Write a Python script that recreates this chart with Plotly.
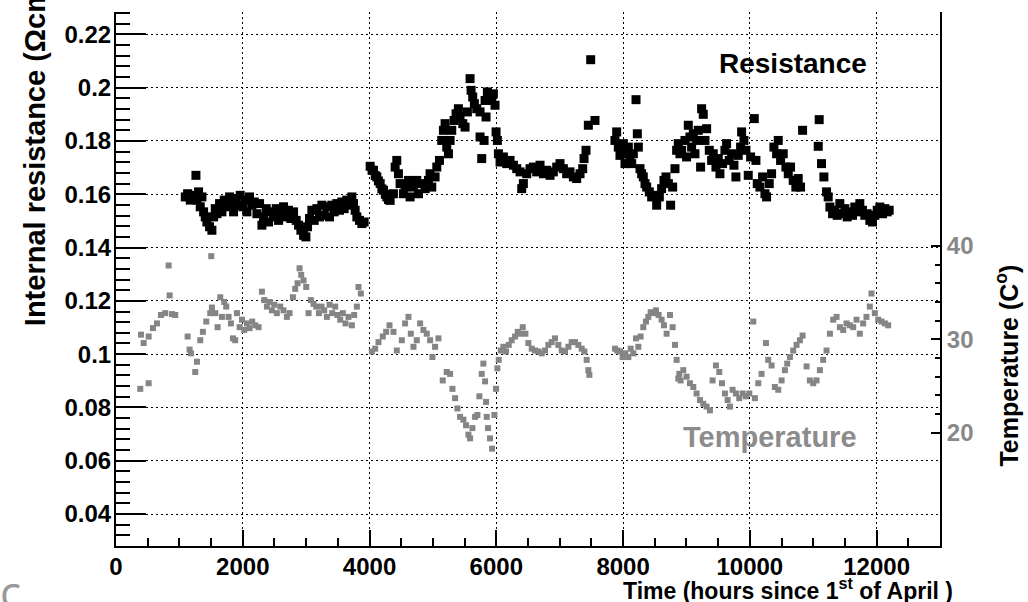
import plotly.graph_objects as go

# ---------------- data ----------------
res_time = [
    1093, 1130, 1172, 1214, 1261, 1277, 1303, 1329, 1356, 1382, 1408, 1434, 1476, 1513, 1540,
    1566, 1592, 1634, 1671, 1708, 1750, 1792, 1829, 1855, 1897, 1934, 1960, 2002, 2039, 2065,
    2107, 2144, 2181, 2223, 2265, 2302, 2328, 2370, 2407, 2444, 2486, 2528, 2565, 2601, 2643,
    2685, 2722, 2759, 2801, 2843, 2880, 2917, 2959, 2996, 3022, 3053, 3090, 3127, 3169, 3211,
    3248, 3284, 3327, 3369, 3406, 3442, 3484, 3526, 3563, 3600, 3642, 3684, 3721, 3747, 3773,
    3800, 3842, 3879, 3915,
    4010, 4040, 4062, 4090, 4115, 4140, 4168, 4195, 4220, 4250, 4273, 4300, 4325, 4377, 4404,
    4430, 4456, 4482, 4535, 4561, 4614, 4640, 4693, 4745, 4772, 4824, 4877, 4929, 4955, 4982,
    5034, 5061, 5103, 5139, 5166, 5192, 5218, 5245, 5271, 5297, 5334, 5365, 5402, 5428, 5471,
    5507, 5544, 5586, 5602, 5628, 5654, 5691, 5744, 5744, 5770, 5807, 5823, 5838, 5859, 5891,
    5928, 5954, 5980, 5996, 6017, 6033, 6059, 6112, 6164, 6217, 6270, 6322, 6375, 6401, 6427,
    6480, 6532, 6585, 6637, 6690, 6743, 6795, 6848, 6900, 6953, 7005, 7058, 7110, 7163, 7216,
    7268, 7321, 7363, 7384, 7415, 7452, 7489, 7557,
    7872, 7899, 7925, 7951, 7978, 8004, 8030, 8057, 8083, 8109, 8136, 8162, 8204, 8225, 8241,
    8267, 8293, 8319, 8346, 8372, 8414, 8451, 8488, 8530, 8572, 8608, 8645, 8677, 8714, 8750,
    8782, 8819, 8845, 8871, 8897, 8924, 8976, 9002, 9029, 9055, 9081, 9108, 9134, 9160, 9186,
    9223, 9239, 9265, 9292, 9318, 9360, 9397, 9423, 9465, 9502, 9528, 9570, 9607, 9633, 9675,
    9712, 9749, 9780, 9817, 9854, 9870, 9907, 9938, 9975, 10012, 10070, 10096, 10117, 10159, 10201,
    10238, 10264, 10306, 10343, 10380, 10422, 10448, 10485, 10527, 10569, 10606, 10642, 10684, 10726, 10763,
    10800, 10832, 11079, 11094, 11131, 11168, 11210, 11236, 11263, 11305, 11341, 11378, 11420, 11462, 11499,
    11536, 11578, 11620, 11656, 11693, 11735, 11777, 11814, 11851, 11893, 11935, 11972, 12009, 12051, 12093,
    12130, 12167, 12198,
]
res_value = [
    0.1590, 0.1602, 0.1578, 0.1596, 0.1671, 0.1578, 0.1609, 0.1553, 0.1590, 0.1534, 0.1515, 0.1496, 0.1478, 0.1465, 0.1515,
    0.1546, 0.1527, 0.1565, 0.1534, 0.1578, 0.1553, 0.1590, 0.1565, 0.1534, 0.1584, 0.1559, 0.1596, 0.1553, 0.1578, 0.1534,
    0.1590, 0.1559, 0.1571, 0.1527, 0.1565, 0.1484, 0.1515, 0.1546, 0.1496, 0.1534, 0.1515, 0.1546, 0.1502, 0.1527, 0.1553,
    0.1515, 0.1540, 0.1509, 0.1534, 0.1502, 0.1484, 0.1465, 0.1446, 0.1440, 0.1478, 0.1509, 0.1540, 0.1502, 0.1546, 0.1515,
    0.1559, 0.1521, 0.1553, 0.1515, 0.1559, 0.1534, 0.1565, 0.1540, 0.1571, 0.1546, 0.1578, 0.1559, 0.1590, 0.1565, 0.1540,
    0.1515, 0.1502, 0.1490, 0.1496,
    0.1705, 0.1690, 0.1690, 0.1670, 0.1665, 0.1650, 0.1640, 0.1620, 0.1615, 0.1600, 0.1590, 0.1580, 0.1577, 0.1602, 0.1702,
    0.1727, 0.1677, 0.1640, 0.1602, 0.1627, 0.1652, 0.1590, 0.1627, 0.1652, 0.1602, 0.1640, 0.1621, 0.1652, 0.1677, 0.1627,
    0.1665, 0.1702, 0.1727, 0.1802, 0.1840, 0.1865, 0.1777, 0.1752, 0.1802, 0.1840, 0.1877, 0.1902, 0.1921, 0.1890, 0.1865,
    0.1852, 0.1909, 0.2034, 0.1990, 0.1965, 0.1940, 0.1921, 0.1909, 0.1815, 0.1734, 0.1802, 0.1952, 0.1890, 0.1984, 0.1971,
    0.1952, 0.1977, 0.1934, 0.1834, 0.1802, 0.1752, 0.1721, 0.1740, 0.1715, 0.1727, 0.1709, 0.1696, 0.1684, 0.1621, 0.1640,
    0.1677, 0.1696, 0.1702, 0.1684, 0.1709, 0.1677, 0.1690, 0.1671, 0.1684, 0.1702, 0.1715, 0.1696, 0.1677, 0.1684, 0.1665,
    0.1659, 0.1677, 0.1696, 0.1734, 0.1765, 0.1859, 0.2105, 0.1877,
    0.1802, 0.1834, 0.1777, 0.1746, 0.1765, 0.1790, 0.1715, 0.1752, 0.1777, 0.1734, 0.1715, 0.1752, 0.1955, 0.1827, 0.1777,
    0.1696, 0.1677, 0.1665, 0.1640, 0.1627, 0.1609, 0.1590, 0.1596, 0.1559, 0.1590, 0.1621, 0.1652, 0.1665, 0.1640, 0.1559,
    0.1627, 0.1696, 0.1765, 0.1790, 0.1752, 0.1765, 0.1802, 0.1740, 0.1859, 0.1815, 0.1777, 0.1827, 0.1752, 0.1802, 0.1840,
    0.1702, 0.1921, 0.1900, 0.1802, 0.1846, 0.1765, 0.1727, 0.1752, 0.1702, 0.1734, 0.1677, 0.1715, 0.1765, 0.1790, 0.1727,
    0.1752, 0.1709, 0.1665, 0.1746, 0.1777, 0.1834, 0.1802, 0.1765, 0.1671, 0.1740, 0.1884, 0.1727, 0.1640, 0.1627, 0.1665,
    0.1602, 0.1590, 0.1640, 0.1677, 0.1777, 0.1752, 0.1802, 0.1727, 0.1752, 0.1702, 0.1677, 0.1702, 0.1652, 0.1627, 0.1659,
    0.1627, 0.1840, 0.1780, 0.1880, 0.1715, 0.1665, 0.1609, 0.1590, 0.1552, 0.1527, 0.1540, 0.1521, 0.1565, 0.1527, 0.1546,
    0.1515, 0.1534, 0.1521, 0.1552, 0.1534, 0.1565, 0.1540, 0.1521, 0.1527, 0.1502, 0.1496, 0.1521, 0.1540, 0.1552, 0.1527,
    0.1546, 0.1534, 0.1540,
]

temp_time = [
    383, 394, 436, 515, 515, 583, 646, 709, 777, 830, 846, 883, 935,
    1130, 1161, 1182, 1250, 1277, 1329, 1371, 1424, 1487, 1513, 1503, 1566, 1603, 1645, 1671, 1708,
    1739, 1776, 1813, 1845, 1881, 1908, 1950, 1987, 2023, 2065, 2107, 2149, 2197, 2249, 2302,
    2339, 2381, 2423, 2460, 2496, 2538, 2591, 2643, 2696, 2738, 2791, 2827, 2864, 2896, 2922,
    2959, 3001, 3038, 3074, 3116, 3159, 3201, 3243, 3285, 3327, 3369, 3411, 3458, 3495, 3537,
    3579, 3621, 3668, 3721, 3758, 3800, 3826, 3863,
    4036, 4089, 4141, 4209, 4262, 4315, 4378, 4430, 4509, 4561, 4614, 4651, 4693, 4745, 4798,
    4850, 4903, 4955, 4992, 5034, 5087, 5155, 5218, 5271, 5308, 5350, 5386, 5428, 5481, 5523,
    5560, 5586, 5623, 5665, 5702, 5733, 5770, 5796, 5823, 5838, 5849, 5870, 5901, 5933, 5970,
    5996, 6017, 6038, 6070, 6112, 6154, 6196, 6243, 6296, 6338, 6375, 6417, 6459, 6506, 6559,
    6611, 6664, 6716, 6769, 6821, 6874, 6926, 6979, 7032, 7084, 7137, 7189, 7242, 7294, 7347,
    7389, 7426, 7452, 7468,
    7872, 7909, 7951, 7993, 8035, 8083, 8120, 8162, 8204, 8241, 8277, 8319, 8361, 8398, 8435,
    8477, 8519, 8561, 8608, 8645, 8687, 8740, 8782, 8819, 8845, 8871, 8887, 8908, 8950, 9002,
    9055, 9108, 9160, 9213, 9265, 9318, 9370, 9412, 9465, 9518, 9560, 9607, 9649, 9686, 9728,
    9780, 9833, 9886, 9938, 9991, 10054, 10080, 10133, 10185, 10254, 10290, 10343, 10395, 10448, 10501,
    10553, 10590, 10632, 10684, 10737, 10790, 10832, 10895, 10947, 11000, 11052, 11105, 11157, 11210, 11263,
    11315, 11368, 11420, 11473, 11525, 11578, 11630, 11683, 11735, 11788, 11840, 11893, 11919, 11972, 12025,
    12077, 12130, 12182,
]
temp_value = [
    24.7, 30.5, 29.6, 25.3, 30.3, 31.2, 31.7, 32.6, 32.8, 37.9, 34.7, 32.7, 32.6,
    30.3, 28.9, 28.5, 26.5, 27.6, 29.9, 30.8, 31.9, 32.8, 33.4, 38.9, 32.8, 31.3, 34.5, 32.4, 34.0,
    33.5, 32.4, 31.7, 30.1, 29.9, 32.8, 31.3, 32.1, 31.0, 31.7, 31.2, 31.9, 31.5, 31.3, 35.1,
    34.2, 33.5, 34.0, 33.1, 33.7, 32.8, 33.5, 33.1, 32.4, 32.8, 34.5, 35.4, 36.0, 37.6, 36.9,
    36.3, 35.6, 32.8, 34.2, 33.8, 33.5, 32.8, 33.5, 33.1, 32.4, 33.7, 32.8, 33.5, 32.6, 32.1,
    32.8, 31.7, 32.4, 31.5, 32.6, 33.5, 35.6, 34.9,
    28.7, 29.0, 29.7, 30.3, 30.8, 31.5, 30.8, 28.8, 29.9, 31.7, 32.4, 30.6, 29.2, 29.9, 31.7,
    31.0, 30.6, 29.9, 28.1, 29.2, 30.1, 25.6, 26.5, 26.3, 24.7, 23.7, 22.6, 21.7, 21.4, 20.8,
    19.8, 19.4, 20.5, 21.7, 21.9, 23.9, 26.3, 27.4, 25.5, 23.3, 21.7, 20.5, 19.4, 18.3, 21.9,
    24.7, 26.9, 27.8, 28.8, 29.2, 28.7, 29.4, 29.9, 30.3, 30.8, 30.6, 31.3, 30.6, 29.6, 29.0,
    28.8, 28.7, 28.5, 28.8, 29.4, 29.7, 30.1, 29.4, 28.8, 28.7, 29.2, 29.7, 29.7, 29.4, 29.0,
    28.7, 27.8, 26.7, 26.2,
    29.0, 28.8, 28.7, 28.1, 28.5, 28.1, 29.0, 28.5, 30.1, 29.2, 30.3, 31.3, 31.9, 32.4, 32.9,
    32.8, 33.1, 32.6, 32.1, 31.5, 30.6, 32.6, 31.3, 29.4, 27.8, 25.8, 26.3, 25.6, 26.7, 26.0,
    25.3, 24.9, 24.2, 23.5, 23.1, 22.8, 22.4, 25.6, 27.2, 26.5, 25.3, 24.2, 23.5, 22.8, 24.6,
    24.2, 23.7, 24.2, 23.9, 24.2, 31.9, 23.7, 25.3, 26.3, 29.6, 27.8, 27.2, 24.9, 24.6, 25.6,
    26.7, 27.4, 28.1, 28.8, 29.4, 29.9, 30.4, 27.1, 25.6, 25.3, 25.6, 26.7, 27.8, 28.8, 30.6,
    32.1, 32.4, 31.3, 31.0, 31.7, 31.5, 31.3, 32.1, 30.6, 31.7, 32.4, 33.5, 34.9, 32.8, 32.1,
    31.9, 31.7, 31.5,
]

x_ticks = [0, 2000, 4000, 6000, 8000, 10000, 12000]
y_ticks = [0.04, 0.06, 0.08, 0.1, 0.12, 0.14, 0.16, 0.18, 0.2, 0.22]
y_tick_text = ["0.04", "0.06", "0.08", "0.1", "0.12", "0.14", "0.16", "0.18", "0.2", "0.22"]
t_ticks = [20, 30, 40]
t_minor = [22, 24, 26, 28, 32, 34, 36, 38]

# ---------------- layout constants ----------------
W, H = 1028, 602
L, R_, T_, B = 116, 940.5, 11.7, 546
FONT = "Liberation Sans, Arial, Helvetica, sans-serif"
GRAY = "#888888"
TICK_SIZE = 24


def px2paper(px, py):
    return (px - L) / (R_ - L), (B - py) / (B - T_)


fig = go.Figure()
fig.add_trace(go.Scatter(
    x=temp_time, y=temp_value, mode="markers", yaxis="y2",
    marker=dict(symbol="square", size=6, color="#858585", line=dict(width=0)),
))
fig.add_trace(go.Scatter(
    x=res_time, y=res_value, mode="markers",
    marker=dict(symbol="square", size=9, color="black", line=dict(width=0)),
))

fig.update_layout(
    width=W, height=H,
    margin=dict(l=L, r=W - R_, t=T_, b=H - B, pad=0),
    paper_bgcolor="white", plot_bgcolor="white",
    showlegend=False,
    font=dict(family=FONT, color="black"),
    xaxis=dict(
        range=[0, 13000], tickvals=x_ticks, ticktext=[str(v) for v in x_ticks],
        ticks="inside", ticklen=16, tickwidth=1.5, tickcolor="black",
        showline=True, linecolor="black", linewidth=2,
        showgrid=True, gridcolor="black", gridwidth=1, griddash="2px,3px",
        zeroline=False, ticklabelstandoff=-2,
        tickfont=dict(family=FONT, size=TICK_SIZE, weight="bold", color="black"),
        minor=dict(dtick=500, tick0=0, ticks="inside", ticklen=8, tickwidth=1.5,
                   tickcolor="black", showgrid=False),
    ),
    yaxis=dict(
        range=[0.028, 0.2284], tickvals=y_ticks, ticktext=y_tick_text,
        ticks="inside", ticklen=30, tickwidth=1.5, tickcolor="black",
        showline=True, linecolor="black", linewidth=2,
        showgrid=True, gridcolor="black", gridwidth=1, griddash="2px,3px",
        zeroline=False, ticklabelstandoff=-2,
        tickfont=dict(family=FONT, size=TICK_SIZE, weight="bold", color="black"),
        minor=dict(dtick=0.004, tick0=0.0, ticks="inside", ticklen=14, tickwidth=1.5,
                   tickcolor="black", showgrid=False),
    ),
    yaxis2=dict(
        overlaying="y", side="right", range=[7.88, 65.03],
        tickvals=t_ticks, ticktext=[str(v) for v in t_ticks],
        ticks="inside", ticklen=9, tickwidth=1.5, tickcolor="black",
        showline=True, linecolor="black", linewidth=2,
        showgrid=False, zeroline=False,
        tickfont=dict(family=FONT, size=TICK_SIZE, weight="bold", color=GRAY),
        minor=dict(tickmode="array", tickvals=t_minor, ticks="inside", ticklen=5,
                   tickwidth=1.5, tickcolor="black", showgrid=False),
    ),
)

ann = []
# y-axis title (clipped at the top of the picture as in the reference)
x0, y0 = px2paper(33, 328)
ann.append(dict(xref="paper", yref="paper", x=x0, y=y0, xanchor="center", yanchor="bottom",
                text="Internal resistance (Ωcm<sup>2</sup>)", textangle=-90, showarrow=False,
                font=dict(family=FONT, size=29, weight="bold", color="black")))
# x-axis title
x0, y0 = px2paper(956, 589)
ann.append(dict(xref="paper", yref="paper", x=x0, y=y0, xanchor="right", yanchor="middle",
                text="Time (hours since 1<sup>st</sup> of April )", showarrow=False,
                font=dict(family=FONT, size=23, weight="bold", color="black")))
# right axis title
x0, y0 = px2paper(1008, 365)
ann.append(dict(xref="paper", yref="paper", x=x0, y=y0, xanchor="center", yanchor="middle",
                text="Temperature (C<sup>o</sup>)", textangle=-90, showarrow=False,
                font=dict(family=FONT, size=25, weight="bold", color="black")))
# series labels
x0, y0 = px2paper(793, 63)
ann.append(dict(xref="paper", yref="paper", x=x0, y=y0, xanchor="center", yanchor="middle",
                text="Resistance", showarrow=False,
                font=dict(family=FONT, size=28, weight="bold", color="black")))
x0, y0 = px2paper(770, 437)
ann.append(dict(xref="paper", yref="paper", x=x0, y=y0, xanchor="center", yanchor="middle",
                text="Temperature", showarrow=False,
                font=dict(family=FONT, size=29, weight="bold", color="#8c8c8c")))
# panel letter, partly cut off at the bottom edge
x0, y0 = px2paper(-2, 559)
ann.append(dict(xref="paper", yref="paper", x=x0, y=y0, xanchor="left", yanchor="top",
                text="c", showarrow=False,
                font=dict(family="Open Sans, sans-serif", size=44, color="#999999")))
fig.update_layout(annotations=ann)

fig.write_html("out.html")
